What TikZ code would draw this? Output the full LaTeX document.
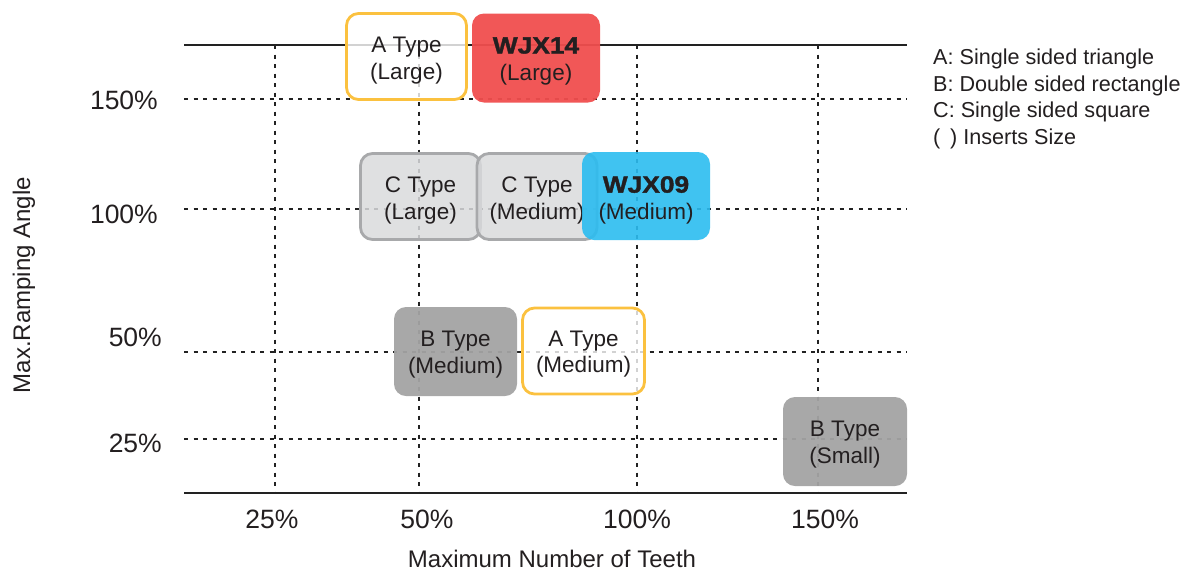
\documentclass[tikz,border=0pt]{standalone}
\usepackage{fontspec}
\setmainfont{Liberation Sans}
\newfontfamily\wjxfont[FakeStretch=1.12,FakeBold=1.6]{Liberation Sans}
\definecolor{gridc}{HTML}{222222}
\definecolor{orangec}{HTML}{FBC13F}
\definecolor{redc}{HTML}{F04E4E}
\definecolor{bluec}{HTML}{2BBCF0}
\definecolor{lgray}{HTML}{D9DADC}
\definecolor{lgrayb}{HTML}{A8A9AB}
\definecolor{mgray}{HTML}{A3A3A3}
\definecolor{txt}{HTML}{231F20}
\begin{document}
\begin{tikzpicture}[x=1pt,y=-1pt,
  gridline/.style={gridc, line width=1.3pt, dash pattern=on 4pt off 5.5pt},
  axisline/.style={gridc, line width=1.8pt},
  box/.style={rectangle, rounded corners=12pt, inner sep=0pt},
  boxtext/.style={align=center, inner sep=0pt, font=\fontsize{22.5}{26.5}\selectfont, text=txt},
  abox/.style={box, draw=orangec, line width=2.8pt, fill=white, fill opacity=0.8,
    minimum width=120pt, minimum height=86pt},
  cbox/.style={box, draw=lgrayb, line width=2.8pt, fill=lgray, fill opacity=0.85,
    minimum width=120pt, minimum height=86pt},
  bbox/.style={box, fill=mgray, fill opacity=0.95, minimum width=123pt, minimum height=89pt},
  wbox/.style={box, minimum width=128pt, minimum height=89pt},
  ticklab/.style={font=\fontsize{26.5}{30}\selectfont, text=txt, inner sep=0pt},
  axtitle/.style={font=\fontsize{24}{28}\selectfont, text=txt, inner sep=0pt},
  legtext/.style={font=\fontsize{21.6}{25}\selectfont, text=txt, inner sep=0pt, anchor=base west}
]
\useasboundingbox (0,0) rectangle (1188,571);
% grid
\foreach \yy in {99,209,352,439} \draw[gridline] (184,\yy) -- (907,\yy);
\foreach \xx in {275,419,637,818} \draw[gridline] (\xx,45) -- (\xx,493);
\draw[axisline] (184,45) -- (907,45);
\draw[axisline] (184,493) -- (907,493);
% boxes
\node[abox] (aL) at (406.5,56.5) {};
\node[boxtext] (aLt) at ([yshift=-4pt]aL.center) {A Type\\(Large)};
\node[wbox, fill=redc, fill opacity=0.95] (w14) at (536,58) {};
\node[boxtext] (w14t) at ([yshift=-3pt]w14.center) {{\wjxfont\bfseries\fontsize{23.5}{26.5}\selectfont WJX14}\\(Large)};
\node[cbox] (cL) at (420.5,196.5) {};
\node[boxtext] (cLt) at ([yshift=-4pt]cL.center) {C Type\\(Large)};
\node[cbox] (cM) at (537,196.5) {};
\node[boxtext] (cMt) at ([yshift=-4pt]cM.center) {C Type\\(Medium)};
\node[wbox, fill=bluec, fill opacity=0.9, minimum height=88pt] (w09) at (646,196) {};
\node[boxtext] (w09t) at ([yshift=-4pt]w09.center) {{\wjxfont\bfseries\fontsize{23.5}{26.5}\selectfont WJX09}\\(Medium)};
\node[bbox] (bM) at (455.5,351.5) {};
\node[boxtext] (bMt) at ([yshift=-3pt]bM.center) {B Type\\(Medium)};
\node[abox, minimum width=122pt] (aM) at (583.5,351) {};
\node[boxtext] (aMt) at ([yshift=-3pt]aM.center) {A Type\\(Medium)};
\node[bbox, minimum width=124pt] (bS) at (845,441.5) {};
\node[boxtext] (bSt) at ([yshift=-3pt]bS.center) {B Type\\(Small)};
% y tick labels
\node[ticklab, anchor=base east] (y150) at (158,109.5) {150\%};
\node[ticklab, anchor=base east] (y100) at (158,223.5) {100\%};
\node[ticklab, anchor=base east] (y50) at (162,346.5) {50\%};
\node[ticklab, anchor=base east] (y25) at (162,452.5) {25\%};
% x tick labels
\node[ticklab, anchor=base] (x25) at (272,528.5) {25\%};
\node[ticklab, anchor=base] (x50) at (427,528.5) {50\%};
\node[ticklab, anchor=base] (x100) at (637,528.5) {100\%};
\node[ticklab, anchor=base] (x150) at (825,528.5) {150\%};
% axis titles
\node[axtitle, anchor=base] (xt) at (552,567) {Maximum Number of Teeth};
\node[axtitle, rotate=90] (yt) at (24,285) {Max.Ramping Angle};
% legend
\node[legtext] (l1) at (933,64.5) {A: Single sided triangle};
\node[legtext] (l2) at (933,91) {B: Double sided rectangle};
\node[legtext] (l3) at (933,117.5) {C: Single sided square};
\node[legtext] (l4) at (933,144.5) {(\hspace{0.45em}) Inserts Size};
\end{tikzpicture}
\end{document}
